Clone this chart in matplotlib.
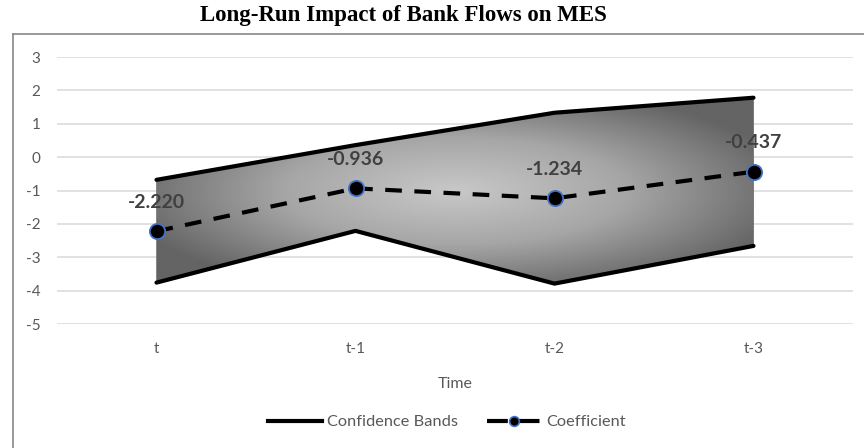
import numpy as np
import matplotlib
matplotlib.use("Agg")
import matplotlib.pyplot as plt
from matplotlib.lines import Line2D
from matplotlib.patches import Polygon
from matplotlib.colors import LinearSegmentedColormap
from matplotlib.legend_handler import HandlerTuple

# ---- data ----
categories = ["t", "t-1", "t-2", "t-3"]
coefficient = [-2.220, -0.936, -1.234, -0.437]
upper_band = [-0.68, 0.36, 1.33, 1.78]
lower_band = [-3.76, -2.21, -3.79, -2.66]
coef_labels = ["-2.220", "-0.936", "-1.234", "-0.437"]
y_ticks = [3, 2, 1, 0, -1, -2, -3, -4, -5]

W, H = 864, 448
plt.rcParams['font.family'] = ['Lato', 'DejaVu Sans']
plt.rcParams['axes.unicode_minus'] = False
fig = plt.figure(figsize=(W / 100, H / 100), dpi=100)

left, right, top, bottom = 57, 853, 57, 324
ax = fig.add_axes([left / W, 1 - bottom / H, (right - left) / W, (bottom - top) / H])

x = np.arange(len(categories))
ax.set_xlim(-0.5, len(categories) - 0.5)
ax.set_ylim(-5, 3)

# gridlines
ax.set_yticks(y_ticks)
ax.yaxis.grid(True, color="#d9d9d9", linewidth=1.1)
ax.set_axisbelow(True)
for s in ax.spines.values():
    s.set_visible(False)
ax.tick_params(axis="both", length=0, colors="#595959", labelsize=11)
ax.tick_params(axis="y", pad=12)
ax.tick_params(axis="x", pad=13)
ax.set_xticks(x)
ax.set_xticklabels(categories)
ax.set_xlabel("Time", color="#595959", fontsize=11.5, labelpad=15)

# gradient fill between bands
verts = list(zip(x, upper_band)) + list(zip(x[::-1], lower_band[::-1]))
poly = Polygon(verts, closed=True, facecolor="none", edgecolor="#707070", linewidth=0.6, zorder=2)
ax.add_patch(poly)
ymin, ymax = min(lower_band), max(upper_band)
nx, ny = 400, 200
gx = np.linspace(-1, 1, nx)
gy = np.linspace(-1, 1, ny)
GX, GY = np.meshgrid(gx, gy)
R = np.sqrt(GX ** 2 + GY ** 2)
R = np.clip(R / 1.15, 0, 1)
cmap = LinearSegmentedColormap.from_list("g", ["#c8c8c8", "#a6a6a6", "#646464"])
im = ax.imshow(R, cmap=cmap, extent=[x[0], x[-1], ymin, ymax], origin="lower",
               aspect="auto", zorder=1, vmin=0, vmax=1, interpolation="bilinear")
im.set_clip_path(poly)

# band lines
ax.plot(x, upper_band, color="black", linewidth=3, solid_capstyle="round", zorder=3)
ax.plot(x, lower_band, color="black", linewidth=3, solid_capstyle="round", zorder=3)

# coefficient
ax.plot(x, coefficient, color="black", linewidth=3, linestyle=(0, (4, 3)), zorder=4,
        marker="o", markersize=11, markerfacecolor="black", markeredgecolor="#4472C4",
        markeredgewidth=1.3)

for xi, yi, lab in zip(x, coefficient, coef_labels):
    ax.annotate(lab, (xi, yi), xytext=(0, 21), textcoords="offset points",
                ha="center", va="center", fontsize=14, fontweight="bold", color="#404040", zorder=5)

# title
fig.text(403 / W, 1 - 15 / H, "Long-Run Impact of Bank Flows on MES",
         ha="center", va="center", fontsize=16.5, fontweight="bold",
         family=["Liberation Serif", "DejaVu Serif"])

# chart border (left and top visible)
fig.add_artist(Line2D([13 / W, 13 / W], [0, 1 - 34 / H], transform=fig.transFigure,
                      color="#888888", linewidth=1.2))
fig.add_artist(Line2D([13 / W, 1], [1 - 34 / H, 1 - 34 / H], transform=fig.transFigure,
                      color="#888888", linewidth=1.2))

# legend
h1 = Line2D([], [], color="black", linewidth=3)
h2a = Line2D([], [], color="black", linewidth=3, linestyle=(0, (5.0, 2.6)))
h2b = Line2D([], [], linestyle="none", marker="o", markersize=7, markerfacecolor="black",
             markeredgecolor="#4472C4", markeredgewidth=1.2)
fig.legend([h1, (h2a, h2b)], ["Confidence Bands", "Coefficient"], loc="center",
           bbox_to_anchor=(447 / W, 1 - 422 / H), ncol=2, frameon=False, fontsize=11.8,
           handlelength=3.3, handletextpad=0.3, columnspacing=1.8, labelcolor="#595959",
           handler_map={tuple: HandlerTuple(ndivide=1)})

fig.savefig("out.png", dpi=100)
